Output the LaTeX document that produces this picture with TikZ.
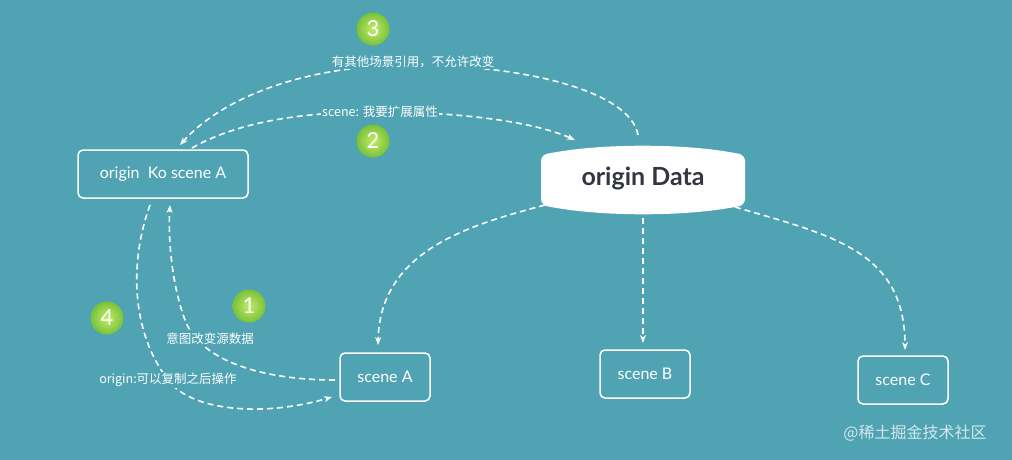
\documentclass[tikz,border=0pt]{standalone}
\usepackage{fontspec}
\setmainfont{Lato}
\newfontfamily\cjk{Noto Sans CJK SC}
\usetikzlibrary{arrows.meta,shadings}
\definecolor{bg}{HTML}{4FA3B3}
\definecolor{dk}{HTML}{33363F}
\definecolor{g1}{HTML}{C4EB6A}
\definecolor{g2}{HTML}{78C23A}
\begin{document}
\begin{tikzpicture}[x=1pt,y=-1pt,
  box/.style={draw=white,line width=1.5pt,rounded corners=5pt,text=white,font=\fontsize{16}{18}\selectfont,minimum height=48pt,inner xsep=8pt},
  conn/.style={draw=white,line width=1.6pt,dash pattern=on 6pt off 4pt,-{Stealth[length=8pt,width=6pt]}},
  lbl/.style={text=white,font=\cjk\fontsize{12.5}{14}\selectfont,fill=bg,inner sep=1pt},
  badge/.style={circle,minimum size=33pt,inner sep=0pt,text=white,font=\fontsize{22}{22}\selectfont,shading=radial,inner color=g1,outer color=g2}]
\fill[bg] (0,0) rectangle (1012,460);
\useasboundingbox (0,0) rectangle (1012,460);
\node[box,minimum width=170pt] (ko) at (163,174) {origin\ \ Ko scene A};
\fill[white,rounded corners=6pt] (541,155) .. controls (600,143) and (686,143) .. (745,155) -- (745,205) .. controls (686,217) and (600,217) .. (541,205) -- cycle;
\node[text=dk,font=\bfseries\fontsize{25}{28}\selectfont,minimum width=150pt,minimum height=48pt] (data) at (643,178) {origin Data};
\node[box,minimum width=90pt] (sa) at (385,377) {scene A};
\node[box,minimum width=90pt] (sb) at (645,374) {scene B};
\node[box,minimum width=90pt] (sc) at (903,380) {scene C};
\node[badge] (b3) at (373,29) {3};
\node[badge] (b2) at (373,141) {2};
\node[badge] (b1) at (249,306) {1};
\node[badge] (b4) at (107,318) {4};
\coordinate (d3) at (638,135);
\coordinate (k3) at (180,145);
\draw[conn] (d3) .. controls (630,90) and (520,65) .. (413,65) .. controls (300,65) and (220,100) .. (k3);
\node[lbl] at (413,62) {有其他场景引用，不允许改变};
\coordinate (k2) at (192,148);
\coordinate (d2) at (575,140);
\draw[conn] (k2) .. controls (250,115) and (330,112) .. (380,112) .. controls (450,112) and (530,120) .. (d2);
\node[lbl] at (380,112) {scene: 我要扩展属性};
\coordinate (s1) at (335,380);
\coordinate (k1) at (170,205);
\draw[conn] (s1) .. controls (260,380) and (200,360) .. (185,320) .. controls (172,285) and (168,240) .. (k1);
\node[lbl] at (210,339) {意图改变源数据};
\coordinate (k4) at (150,205);
\coordinate (s4) at (332,397);
\draw[conn] (k4) .. controls (130,260) and (130,330) .. (168,380) .. controls (190,410) and (260,418) .. (s4);
\node[lbl] at (168,380) {origin:可以复制之后操作};
\coordinate (da) at (545,205);
\coordinate (ta) at (378,345);
\draw[conn] (da) .. controls (470,225) and (380,250) .. (ta);
\coordinate (db) at (643,218);
\coordinate (tb) at (643,343);
\draw[conn] (db) -- (tb);
\coordinate (dc) at (735,207);
\coordinate (tc) at (905,350);
\draw[conn] (dc) .. controls (830,235) and (905,250) .. (tc);
\node[text=white!75!bg,font=\cjk\fontsize{16}{18}\selectfont] (wm) at (915,433) {@稀土掘金技术社区};
\end{tikzpicture}
\end{document}
